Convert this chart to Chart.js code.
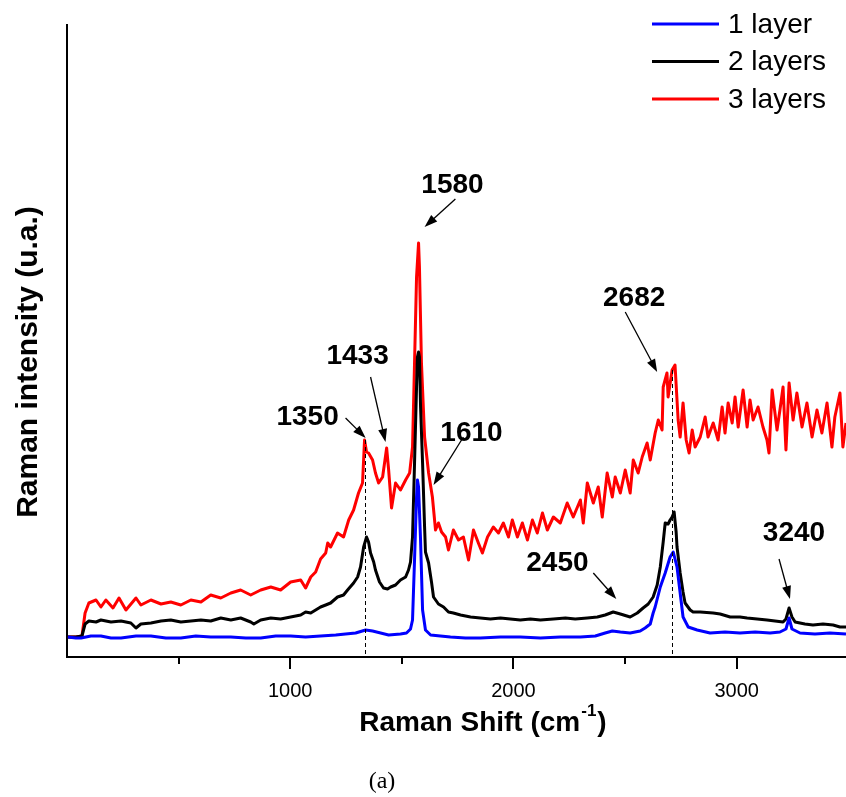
<!DOCTYPE html>
<html>
<head>
<meta charset="utf-8">
<script src="https://cdn.jsdelivr.net/npm/chart.js@4.4.0/dist/chart.umd.min.js"></script>
<style>
  body { margin: 0; background: #fff; }
  #wrap { width: 846px; height: 797px; position: relative; }
</style>
</head>
<body>
<div id="wrap"><canvas id="myChart"></canvas></div>
<script>
// Raman shift (cm-1) / intensity (a.u.)
const shift1 = [4, 40, 63, 107, 152, 197, 242, 309, 376, 443, 510, 577, 644, 734, 801, 868, 935, 1002, 1069, 1136, 1204, 1248, 1293, 1338, 1369, 1405, 1441, 1494, 1521, 1539, 1548, 1557, 1566, 1570, 1575, 1584, 1593, 1606, 1629, 1673, 1718, 1785, 1852, 1942, 2031, 2121, 2210, 2300, 2367, 2411, 2443, 2479, 2523, 2568, 2590, 2613, 2626, 2635, 2658, 2680, 2702, 2716, 2733, 2747, 2760, 2783, 2823, 2881, 2948, 3015, 3083, 3150, 3194, 3221, 3235, 3248, 3284, 3351, 3418, 3490];
const int1 = [20, 19, 19, 21, 21, 19, 19, 21, 21, 19, 19, 21, 20, 20, 19, 19, 21, 21, 20, 21, 22, 23, 24, 27, 26, 24, 22, 23, 24, 28, 37, 97, 160, 177, 170, 117, 47, 27, 22, 21, 20, 19, 19, 20, 20, 19, 20, 20, 21, 24, 26, 25, 24, 26, 29, 33, 44, 50, 70, 84, 100, 105, 90, 64, 40, 30, 27, 24, 25, 24, 25, 24, 25, 28, 39, 28, 24, 23, 24, 23];

const shift2 = [4, 40, 67, 81, 98, 130, 152, 197, 242, 286, 309, 331, 376, 421, 465, 510, 555, 600, 644, 689, 734, 778, 823, 837, 868, 913, 957, 1002, 1047, 1069, 1092, 1114, 1136, 1159, 1181, 1212, 1239, 1257, 1284, 1302, 1315, 1329, 1342, 1351, 1360, 1374, 1382, 1400, 1418, 1436, 1450, 1472, 1494, 1517, 1530, 1539, 1548, 1557, 1566, 1570, 1575, 1579, 1584, 1593, 1602, 1606, 1620, 1633, 1642, 1664, 1687, 1709, 1731, 1763, 1808, 1852, 1897, 1942, 1986, 2031, 2076, 2121, 2179, 2233, 2277, 2331, 2376, 2411, 2447, 2479, 2523, 2555, 2581, 2604, 2626, 2644, 2658, 2671, 2680, 2693, 2702, 2711, 2720, 2729, 2733, 2747, 2760, 2769, 2792, 2805, 2837, 2895, 2926, 2971, 3015, 3047, 3092, 3136, 3172, 3208, 3221, 3235, 3248, 3262, 3306, 3342, 3387, 3432, 3463, 3490];
const int2 = [20, 20, 21, 33, 36, 35, 37, 35, 36, 34, 29, 33, 34, 36, 37, 35, 36, 37, 36, 39, 37, 39, 35, 33, 37, 39, 38, 40, 42, 45, 44, 47, 50, 52, 54, 60, 62, 67, 74, 80, 90, 110, 120, 115, 104, 95, 87, 75, 69, 68, 70, 72, 77, 80, 87, 95, 120, 194, 270, 300, 305, 300, 250, 194, 130, 105, 94, 75, 60, 53, 50, 45, 44, 42, 40, 39, 38, 39, 38, 37, 38, 37, 38, 39, 38, 39, 40, 42, 45, 43, 40, 44, 49, 53, 60, 72, 90, 115, 134, 133, 137, 140, 145, 125, 110, 84, 65, 54, 47, 45, 45, 44, 43, 40, 40, 39, 38, 37, 36, 35, 38, 49, 40, 35, 33, 32, 33, 32, 30, 30];

const shift3 = [4, 40, 67, 81, 98, 130, 152, 174, 206, 233, 264, 309, 331, 376, 421, 465, 510, 555, 600, 644, 689, 734, 778, 823, 868, 913, 957, 1002, 1047, 1069, 1092, 1114, 1136, 1159, 1168, 1181, 1212, 1239, 1262, 1284, 1306, 1324, 1333, 1342, 1351, 1369, 1382, 1396, 1414, 1432, 1441, 1454, 1472, 1494, 1517, 1535, 1548, 1557, 1566, 1575, 1579, 1588, 1602, 1620, 1637, 1651, 1664, 1678, 1696, 1709, 1731, 1754, 1776, 1799, 1821, 1843, 1861, 1884, 1910, 1933, 1955, 1978, 1995, 2018, 2040, 2063, 2085, 2107, 2130, 2152, 2179, 2210, 2241, 2268, 2300, 2313, 2331, 2358, 2380, 2398, 2420, 2443, 2456, 2479, 2501, 2523, 2537, 2559, 2577, 2599, 2613, 2635, 2649, 2666, 2671, 2688, 2693, 2711, 2724, 2738, 2747, 2760, 2774, 2787, 2801, 2814, 2837, 2859, 2872, 2895, 2917, 2935, 2948, 2962, 2980, 2993, 3007, 3029, 3047, 3060, 3074, 3096, 3118, 3136, 3145, 3159, 3181, 3194, 3208, 3221, 3235, 3253, 3270, 3293, 3315, 3338, 3360, 3382, 3405, 3427, 3440, 3463, 3476, 3490];
const int3 = [20, 20, 21, 44, 54, 57, 50, 57, 49, 59, 47, 59, 52, 57, 53, 55, 52, 57, 55, 62, 59, 64, 67, 62, 67, 70, 67, 75, 77, 69, 80, 85, 98, 104, 114, 110, 124, 120, 137, 147, 164, 174, 217, 205, 204, 197, 184, 174, 180, 209, 187, 149, 174, 167, 177, 184, 210, 294, 380, 414, 390, 294, 220, 184, 160, 127, 134, 125, 120, 107, 127, 117, 120, 97, 127, 114, 104, 120, 130, 124, 134, 120, 137, 120, 134, 117, 137, 124, 144, 127, 140, 134, 154, 140, 157, 134, 174, 154, 170, 140, 184, 160, 180, 164, 187, 164, 197, 184, 200, 214, 197, 224, 237, 227, 270, 284, 260, 287, 292, 237, 220, 254, 217, 204, 227, 210, 220, 240, 220, 234, 217, 250, 224, 254, 234, 260, 230, 267, 230, 257, 237, 250, 230, 217, 204, 267, 227, 247, 270, 207, 274, 237, 264, 230, 254, 220, 247, 224, 254, 210, 240, 264, 210, 234];

const seriesNames = ['1 layer', '2 layers', '3 layers'];
const seriesColors = ['#0000ff', '#000000', '#ff0000'];
const xTicks = [500, 1000, 1500, 2000, 2500, 3000];

// peak annotations: label text, label centre, arrow tail and head (data units)
const peakLabels = ['1350', '1433', '1580', '1610', '2450', '2682', '3240'];
const labelX = [1078, 1302, 1727, 1812, 2197, 2541, 3257];
const labelY = [240, 301, 472, 224, 94, 359, 124];
const tailX = [1248, 1360, 1740, 1776, 2358, 2501, 3190];
const tailY = [239, 280, 458, 220, 84, 345, 98];
const headX = [1338, 1427, 1602, 1642, 2461, 2644, 3239];
const headY = [219, 215, 430, 172, 58, 285, 58];
// dashed guide lines under the D and 2D peaks
const dashX = [1333, 2711];
const dashTop = [217, 287];

const FONT = '"Liberation Sans", Arial, sans-serif';

function toXY(xs, ys) {
  return xs.map((x, i) => ({ x: x, y: ys[i] }));
}

function arrow(ctx, x1, y1, x2, y2) {
  const a = Math.atan2(y2 - y1, x2 - x1);
  const len = 13, half = 4.5;
  ctx.beginPath();
  ctx.moveTo(x1, y1);
  ctx.lineTo(x2 - Math.cos(a) * len * 0.8, y2 - Math.sin(a) * len * 0.8);
  ctx.stroke();
  ctx.beginPath();
  ctx.moveTo(x2, y2);
  ctx.lineTo(x2 - Math.cos(a) * len - Math.sin(a) * half, y2 - Math.sin(a) * len + Math.cos(a) * half);
  ctx.lineTo(x2 - Math.cos(a) * len + Math.sin(a) * half, y2 - Math.sin(a) * len - Math.cos(a) * half);
  ctx.closePath();
  ctx.fill();
}

const decor = {
  id: 'decor',
  afterDraw(chart) {
    const ctx = chart.ctx;
    const xs = chart.scales.x, ys = chart.scales.y;
    const area = chart.chartArea;
    ctx.save();
    ctx.strokeStyle = '#000';
    ctx.fillStyle = '#000';

    // tick marks (major every 1000, minor in between)
    ctx.lineWidth = 2;
    xTicks.forEach(v => {
      const px = Math.round(xs.getPixelForValue(v));
      const l = v % 1000 === 0 ? 12 : 7;
      ctx.beginPath();
      ctx.moveTo(px, area.bottom);
      ctx.lineTo(px, area.bottom + l);
      ctx.stroke();
    });

    // dashed guides
    ctx.lineWidth = 1;
    ctx.setLineDash([4, 3]);
    dashX.forEach((v, i) => {
      const px = Math.round(xs.getPixelForValue(v)) + 0.5;
      ctx.beginPath();
      ctx.moveTo(px, ys.getPixelForValue(dashTop[i]));
      ctx.lineTo(px, area.bottom);
      ctx.stroke();
    });
    ctx.setLineDash([]);

    // arrows and peak labels
    ctx.lineWidth = 1.3;
    peakLabels.forEach((t, i) => {
      arrow(ctx, xs.getPixelForValue(tailX[i]), ys.getPixelForValue(tailY[i]),
        xs.getPixelForValue(headX[i]), ys.getPixelForValue(headY[i]));
    });
    ctx.font = 'bold 28px ' + FONT;
    ctx.textAlign = 'center';
    ctx.textBaseline = 'middle';
    peakLabels.forEach((t, i) => {
      ctx.fillText(t, xs.getPixelForValue(labelX[i]), ys.getPixelForValue(labelY[i]));
    });

    // legend, top right
    ctx.font = '28px ' + FONT;
    ctx.textAlign = 'left';
    chart.data.datasets.forEach((ds, i) => {
      const y = 24 + i * 37.5;
      ctx.strokeStyle = ds.borderColor;
      ctx.lineWidth = 3;
      ctx.beginPath();
      ctx.moveTo(652, y);
      ctx.lineTo(719, y);
      ctx.stroke();
      ctx.fillText(ds.label, 728, y + 1);
    });

    // axis titles
    ctx.fillStyle = '#000';
    ctx.font = 'bold 30px ' + FONT;
    ctx.save();
    ctx.translate(29, 362);
    ctx.rotate(-Math.PI / 2);
    ctx.textAlign = 'center';
    ctx.fillText('Raman intensity (u.a.)', 0, 0);
    ctx.restore();

    const main = 'Raman Shift (cm';
    ctx.textBaseline = 'alphabetic';
    ctx.font = 'bold 28px ' + FONT;
    const w1 = ctx.measureText(main).width;
    const w3 = ctx.measureText(')').width;
    ctx.font = 'bold 17px ' + FONT;
    const w2 = ctx.measureText('-1').width;
    let x0 = 482 - (w1 + w2 + w3) / 2;
    ctx.textAlign = 'left';
    ctx.font = 'bold 28px ' + FONT;
    ctx.fillText(main, x0, 731);
    ctx.font = 'bold 17px ' + FONT;
    ctx.fillText('-1', x0 + w1 + 1, 716);
    ctx.font = 'bold 28px ' + FONT;
    ctx.fillText(')', x0 + w1 + w2 + 2, 731);

    ctx.font = '24px "Liberation Serif", serif';
    ctx.textAlign = 'center';
    ctx.fillText('(a)', 382, 788);
    ctx.restore();
  }
};

const datasets = [toXY(shift1, int1), toXY(shift2, int2), toXY(shift3, int3)].map((d, i) => ({
  label: seriesNames[i],
  data: d,
  borderColor: seriesColors[i],
  backgroundColor: seriesColors[i],
  borderWidth: 3,
  pointRadius: 0,
  tension: 0,
  borderJoinStyle: 'round',
  fill: false
}));

const ctx = document.getElementById('myChart').getContext('2d');
const myChart = new Chart(ctx, {
  type: 'line',
  data: { datasets: datasets },
  options: {
    responsive: true,
    maintainAspectRatio: false,
    animation: false,
    layout: { padding: { top: 25, right: 0, bottom: 0, left: 0 } },
    plugins: { legend: { display: false }, tooltip: { enabled: false } },
    scales: {
      x: {
        type: 'linear',
        min: 0,
        max: 3490,
        afterFit: s => { s.height = 140; },
        afterBuildTicks: s => { s.ticks = xTicks.map(v => ({ value: v })); },
        ticks: {
          callback: v => (v % 1000 === 0 ? String(v) : ''),
          font: { family: FONT, size: 20 },
          color: '#000',
          padding: 22,
          maxRotation: 0,
          autoSkip: false
        },
        grid: { drawOnChartArea: false, drawTicks: false },
        border: { display: true, color: '#000', width: 2 }
      },
      y: {
        min: 0,
        max: 632,
        afterFit: s => { s.width = 67; },
        ticks: { display: false },
        grid: { drawOnChartArea: false, drawTicks: false },
        border: { display: true, color: '#000', width: 2 }
      }
    }
  },
  plugins: [decor]
});
</script>
</body>
</html>
